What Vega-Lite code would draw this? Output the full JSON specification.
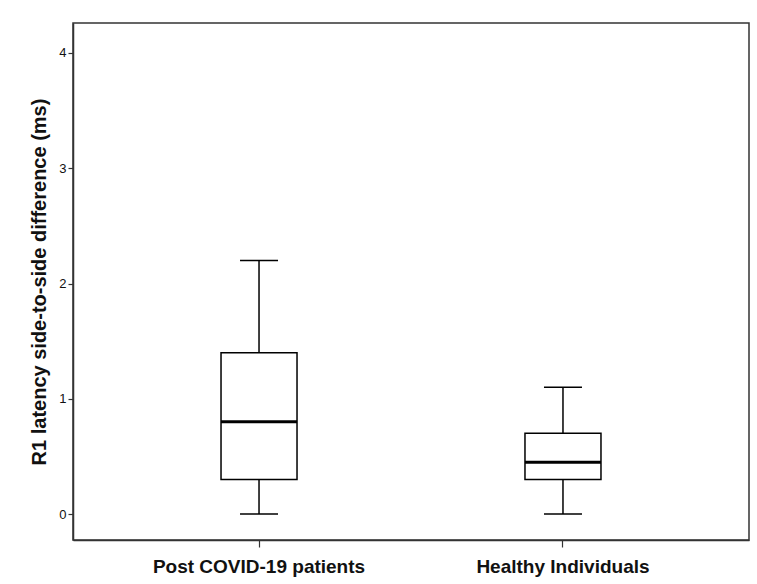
{
  "$schema": "https://vega.github.io/schema/vega-lite/v6.json",
  "autosize": "none",
  "width": 676,
  "height": 517,
  "padding": {"left": 73, "top": 23, "right": 8, "bottom": 44},
  "background": "white",
  "config": {
    "view": {"stroke": "#333333", "strokeWidth": 1.5},
    "font": "Liberation Sans"
  },
  "data": {
    "values": [
      {"group": "Post COVID-19 patients", "min": 0, "q1": 0.3, "median": 0.8, "q3": 1.4, "max": 2.2},
      {"group": "Healthy Individuals", "min": 0, "q1": 0.3, "median": 0.45, "q3": 0.7, "max": 1.1}
    ]
  },
  "encoding": {
    "x": {
      "field": "group",
      "type": "nominal",
      "sort": ["Post COVID-19 patients", "Healthy Individuals"],
      "scale": {"paddingInner": 0.5, "paddingOuter": 0.362},
      "axis": {
        "title": null,
        "labelAngle": 0,
        "labelLimit": 0,
        "labelFontSize": 19,
        "labelFontWeight": "bold",
        "labelColor": "#111111",
        "labelPadding": 10,
        "tickSize": 7,
        "tickColor": "#333333",
        "tickWidth": 1.2,
        "domainColor": "#333333",
        "domainWidth": 1.5
      }
    }
  },
  "layer": [
    {
      "mark": {"type": "rule", "color": "black", "strokeWidth": 1.5},
      "encoding": {
        "y": {
          "field": "min",
          "type": "quantitative",
          "scale": {"domain": [-0.225, 4.26], "nice": false, "zero": false},
          "axis": {
            "title": "R1 latency side-to-side difference (ms)",
            "titleFontSize": 20,
            "titleFontWeight": "bold",
            "titleColor": "#111111",
            "titlePadding": 9,
            "values": [0, 1, 2, 3, 4],
            "format": "d",
            "grid": false,
            "labelFontSize": 13,
            "labelColor": "#111111",
            "labelPadding": 2,
            "tickSize": 5,
            "tickColor": "#333333",
            "tickWidth": 1.2,
            "domainColor": "#333333",
            "domainWidth": 1.5
          }
        },
        "y2": {"field": "max"}
      }
    },
    {
      "mark": {"type": "bar", "fill": "white", "stroke": "black", "strokeWidth": 1.5, "size": 76},
      "encoding": {
        "y": {"field": "q1", "type": "quantitative"},
        "y2": {"field": "q3"}
      }
    },
    {
      "mark": {"type": "tick", "color": "black", "thickness": 3, "size": 76, "opacity": 1},
      "encoding": {"y": {"field": "median", "type": "quantitative"}}
    },
    {
      "mark": {"type": "tick", "color": "black", "thickness": 1.5, "size": 38, "opacity": 1},
      "encoding": {"y": {"field": "min", "type": "quantitative"}}
    },
    {
      "mark": {"type": "tick", "color": "black", "thickness": 1.5, "size": 38, "opacity": 1},
      "encoding": {"y": {"field": "max", "type": "quantitative"}}
    }
  ]
}
